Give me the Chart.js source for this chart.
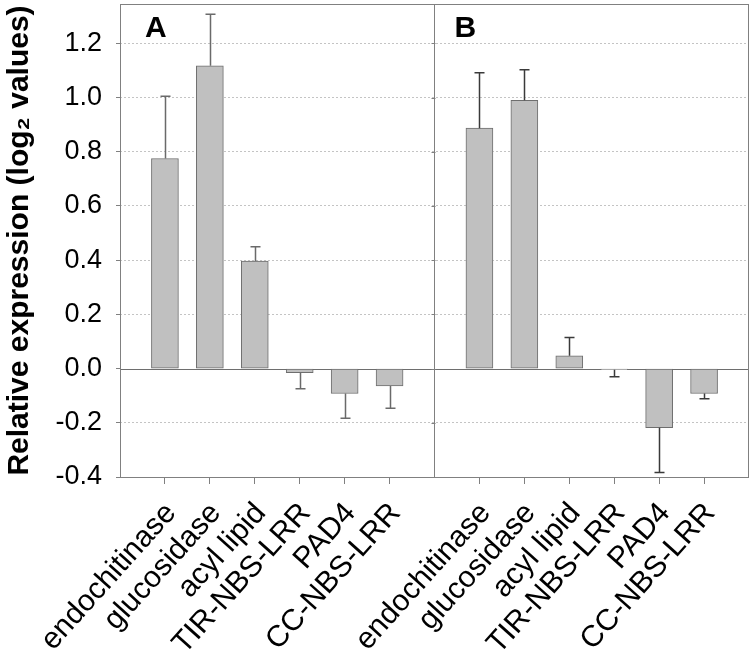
<!DOCTYPE html>
<html>
<head>
<meta charset="utf-8">
<script src="https://cdn.jsdelivr.net/npm/chart.js"></script>
<style>
  * { margin: 0; padding: 0; box-sizing: border-box; }
  body { background: #fff; width: 750px; height: 650px; overflow: hidden; }
</style>
</head>
<body>
<canvas id="chart" width="750" height="650"></canvas>

<script>
  // Gene categories (same set in both panels)
  const categories = ['endochitinase', 'glucosidase', 'acyl lipid', 'TIR-NBS-LRR', 'PAD4', 'CC-NBS-LRR'];

  // Panel A
  const valuesA = [0.775, 1.117, 0.397, -0.015, -0.092, -0.064];
  const errA = [0.23, 0.19, 0.052, 0.059, 0.091, 0.082];

  // Panel B
  const valuesB = [0.887, 0.990, 0.047, -0.004, -0.218, -0.092];
  const errB = [0.204, 0.112, 0.068, 0.026, 0.165, 0.019];

  const yTicks = [-0.4, -0.2, 0.0, 0.2, 0.4, 0.6, 0.8, 1.0, 1.2];
  const panelLetters = ['A', 'B'];

  // empty slots at both ends and between the panels
  const labels = [''].concat(categories, [''], categories, ['']);
  const values = [null].concat(valuesA, [null], valuesB, [null]);
  const errors = [null].concat(errA, [null], errB, [null]);
  const dividerIndex = categories.length + 1;

  const FONT = "'Liberation Sans', Arial, sans-serif";

  function noPadding(scale) {
    scale.paddingTop = 0;
    scale.paddingBottom = 0;
    scale.paddingLeft = 0;
    scale.paddingRight = 0;
  }

  // Error bars, zero line, frame and panel letters
  const extras = {
    id: 'extras',
    beforeDatasetsDraw(chart) {
      const { ctx, chartArea: a, scales: { y } } = chart;
      const y0 = Math.round(y.getPixelForValue(0)) + 0.5;
      ctx.save();
      ctx.strokeStyle = '#6e6e6e';
      ctx.lineWidth = 1;
      ctx.beginPath();
      ctx.moveTo(a.left, y0);
      ctx.lineTo(a.right, y0);
      ctx.stroke();
      ctx.restore();
    },
    afterDatasetsDraw(chart) {
      const { ctx, scales: { y } } = chart;
      const meta = chart.getDatasetMeta(0);
      ctx.save();
      ctx.lineWidth = 1.5;
      values.forEach((v, i) => {
        if (v === null) return;
        const bar = meta.data[i];
        const x = Math.round(bar.x) + 0.5;
        const sign = v >= 0 ? 1 : -1;
        const yStart = y.getPixelForValue(v);
        const yEnd = y.getPixelForValue(v + sign * errors[i]);
        ctx.strokeStyle = i < dividerIndex ? '#6a6a6a' : '#3a3a3a';
        ctx.beginPath();
        ctx.moveTo(x, yStart);
        ctx.lineTo(x, yEnd);
        ctx.moveTo(x - 5, yEnd);
        ctx.lineTo(x + 5, yEnd);
        ctx.stroke();
      });
      ctx.restore();
    },
    afterDraw(chart) {
      const { ctx, chartArea: a, scales: { x, y } } = chart;
      ctx.save();
      ctx.strokeStyle = '#808080';
      ctx.lineWidth = 1;
      ctx.strokeRect(a.left + 0.5, a.top + 0.5, a.right - a.left - 1, a.bottom - a.top);
      // small tick marks on the panel divider
      const xd = Math.round(x.getPixelForValue(dividerIndex)) + 0.5;
      ctx.beginPath();
      yTicks.forEach(v => {
        const yy = Math.round(y.getPixelForValue(v)) + 0.5;
        ctx.moveTo(xd - 4, yy);
        ctx.lineTo(xd, yy);
      });
      ctx.stroke();
      // panel letters
      ctx.fillStyle = '#000';
      ctx.font = 'bold 30px ' + FONT;
      ctx.textBaseline = 'middle';
      ctx.textAlign = 'left';
      ctx.fillText(panelLetters[0], x.getPixelForValue(0) + 25, a.top + 25);
      ctx.fillText(panelLetters[1], x.getPixelForValue(dividerIndex) + 20, a.top + 25);
      ctx.restore();
    }
  };

  const ctx = document.getElementById('chart').getContext('2d');
  const chart = new Chart(ctx, {
    type: 'bar',
    data: {
      labels: labels,
      datasets: [{
        data: values,
        backgroundColor: '#c0c0c0',
        borderColor: '#6e6e6e',
        borderWidth: 1,
        borderSkipped: false,
        barThickness: 27
      }]
    },
    options: {
      responsive: false,
      animation: false,
      layout: { padding: { top: 4, right: 1, left: 0, bottom: 0 } },
      plugins: {
        legend: { display: false },
        tooltip: { enabled: false }
      },
      scales: {
        x: {
          offset: false,
          grid: {
            offset: false,
            drawOnChartArea: true,
            color: c => c.index === dividerIndex ? '#808080' : 'rgba(0,0,0,0)',
            tickColor: c => (c.index === 0 || c.index === dividerIndex || c.index === labels.length - 1) ? 'rgba(0,0,0,0)' : '#808080',
            tickLength: 7
          },
          border: { display: false },
          ticks: {
            autoSkip: false,
            minRotation: 48,
            maxRotation: 48,
            padding: 12,
            labelOffset: 6,
            color: '#000',
            font: { family: FONT, size: 30 }
          },
          afterFit(scale) { scale.height = 173; noPadding(scale); }
        },
        y: {
          min: -0.4,
          max: 1.345,
          afterBuildTicks(scale) {
            scale.ticks = yTicks.map(v => ({ value: v }));
          },
          grid: {
            color: c => (c.tick && (Math.abs(c.tick.value) < 1e-9 || c.tick.value < -0.39)) ? 'rgba(0,0,0,0)' : '#c4c4c4',
            tickColor: '#808080',
            tickLength: 4
          },
          border: { display: false, dash: [2, 2] },
          ticks: {
            padding: 14,
            color: '#000',
            font: { family: FONT, size: 27 },
            callback: v => v.toFixed(1)
          },
          title: {
            display: true,
            text: 'Relative expression (log\u2082 values)',
            color: '#000',
            font: { family: FONT, size: 30, weight: 'bold' },
            padding: { top: 2, bottom: 0 }
          },
          afterFit(scale) { scale.width = 120; noPadding(scale); }
        }
      }
    },
    plugins: [extras]
  });
</script>
</body>
</html>
